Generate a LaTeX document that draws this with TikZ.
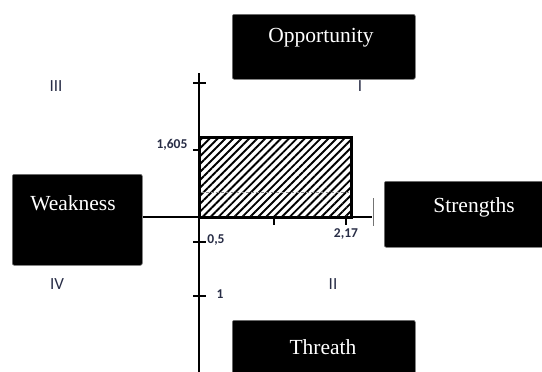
\documentclass[tikz,border=0pt]{standalone}
\usepackage{fontspec}
\setmainfont{Liberation Serif}
\newfontfamily\calfont{Carlito}
\usetikzlibrary{patterns.meta}
\definecolor{numcol}{RGB}{40,45,70}
\tikzset{
  swotbox/.style={fill=black, draw=black!55, rounded corners=2pt, line width=0.6pt, anchor=north west, inner sep=0pt},
  swottext/.style={text=white, font=\fontsize{21.5}{24}\selectfont, inner sep=0pt},
  quadrant/.style={text=numcol, font=\calfont\fontsize{17}{19}\selectfont, inner sep=0pt},
  ticklabel/.style={text=numcol, font=\calfont\bfseries\fontsize{13.5}{15}\selectfont, inner sep=0pt},
  axis/.style={line width=2.8pt},
  tick/.style={line width=1.8pt}
}

\begin{document}
\begin{tikzpicture}[x=1pt,y=-1pt]
			\useasboundingbox (0,0) rectangle (542,372);
			%%%%% START %%%%%
			
			% the four boxes
			\node[swotbox, minimum width=183, minimum height=65] (opp) at (232,14) {};
			\node[swotbox, minimum width=130, minimum height=91] (weak) at (12,174) {};
			\node[swotbox, minimum width=162, minimum height=66] (str) at (384,181) {};
			\node[swotbox, minimum width=183, minimum height=60] (thr) at (232,320) {};
			
			\node[swottext] (opptext) at (321,38) {Opportunity};
			\node[swottext] (weaktext) at (73,203) {Weakness};
			\node[swottext] (strtext) at (474,207) {Strengths};
			\node[swottext] (thrtext) at (323,347) {Threath};
			
			% axes
			\coordinate (o) at (199,217);
			\coordinate (ytop) at (199,73);
			\coordinate (ybot) at (199,372);
			\coordinate (xend) at (372,217);
			\coordinate (corner) at (351,137);
			
			\draw[line width=3pt, pattern={Lines[angle=45, distance=5.6pt, line width=1.9pt]}] (o) rectangle (corner);
			\draw[white!55!black, dashed, dash pattern=on 3pt off 2pt, line width=0.5pt] (200.5,192) -- (349.5,192);
			
			\draw[axis] (ytop) -- (ybot);
			\draw[axis] (weak.east |- o) -- (xend);
			\draw[black!55, line width=0.8pt] (373,198) -- (373,226);
			
			% ticks
			\draw[tick] (193,83) -- (206,83);
			\draw[tick] (193,150) -- (199,150);
			\draw[tick] (193,242) -- (206,242);
			\draw[tick] (193,296) -- (206,296);
			\draw[tick] (274,217) -- (274,225);
			\draw[tick] (346,217) -- (346,225);
			
			\node[ticklabel] (l1605) at (172,145) {1,605};
			\node[ticklabel] (l05) at (216,240) {0,5};
			\node[ticklabel] (l1) at (220,294) {1};
			\node[ticklabel] (l217) at (346,234) {2,17};
			
			% quadrants
			\node[quadrant] (q3) at (56,86) {III};
			\node[quadrant] (q1) at (360,86) {I};
			\node[quadrant] (q4) at (57,284) {IV};
			\node[quadrant] (q2) at (333,284) {II};
			
			%%%%% END %%%%%
\end{tikzpicture}
\end{document}
